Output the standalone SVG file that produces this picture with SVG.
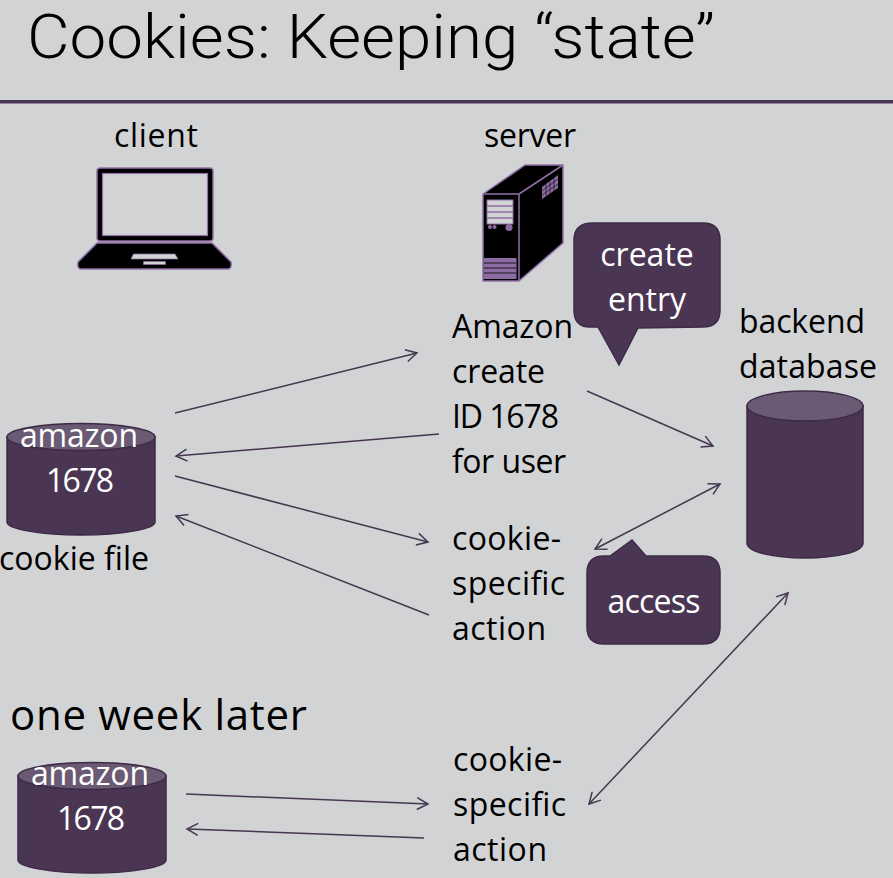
<svg xmlns="http://www.w3.org/2000/svg" width="893" height="878" viewBox="0 0 893 878">
<style>
text{font-family:"Open Sans","Noto Sans","Liberation Sans",sans-serif;font-size:32px;fill:#000}
.w{fill:#fff}
.c{text-anchor:middle}
.body{fill:#4a3553;stroke:#3d2a47;stroke-width:1.5}
.top{fill:#6b5a73;stroke:#3d2a47;stroke-width:1.5}
.ln{fill:none;stroke:#45374f;stroke-width:1.5}
.dev{fill:#000;stroke:#9070a8;stroke-width:1.5;stroke-linejoin:round}
.cut{fill:#d2d3d5;stroke:#9070a8;stroke-width:1.2}
.vent{fill:#8d6ba3;stroke:none}
</style>
<defs>
<marker id="a" markerUnits="userSpaceOnUse" markerWidth="20" markerHeight="20" refX="15" refY="8" orient="auto-start-reverse"><path d="M4 2L15 8L4 14" fill="none" stroke="#45374f" stroke-width="1.5"/></marker>
</defs>
<rect width="893" height="878" fill="#d2d3d5"/>
<rect id="rule" x="0" y="100" width="893" height="3.500" fill="#4a3553"/>
<text id="title" x="27" y="58" style="font-family:Roboto,'Open Sans',sans-serif;font-size:62px;font-weight:300" textLength="688" lengthAdjust="spacingAndGlyphs">Cookies: Keeping “state”</text>
<g id="client"><text x="156" y="147" class="c" textLength="84">client</text>
<path class="dev" d="M100 168H210Q213 168 213 171V238Q213 241 210 241H100Q97 241 97 238V171Q97 168 100 168Z"/>
<rect class="cut" x="102.500" y="173.500" width="105" height="62"/>
<path class="dev" d="M97 243H212L231 262Q232 269 228 269H81Q77 269 78 262Z"/>
<path class="cut" d="M133.500 254H175L178 259H131ZM143.500 261.500H165.500V264.500H143.500Z" style="stroke-width:.7"/>
</g>
<g id="server"><text x="530" y="147" class="c" textLength="92">server</text>
<path class="dev" d="M483 194L525 165H563V243L519 281H483Z"/>
<path d="M483 194H519V281M519 194L563 165" fill="none" stroke="#9070a8" stroke-width="1.500"/>
<rect x="487" y="200" width="26" height="24" fill="#d2d3d5" stroke="#9070a8"/>
<path d="M487 206H513M487 212H513M487 218H513" stroke="#8d6ba3" stroke-width="1.600"/>
<rect class="vent" x="483.500" y="258" width="33" height="21"/>
<path d="M484 263H516M484 268H516M484 273H516" stroke="#000" stroke-width=".8"/>
<circle cx="490" cy="227" r="2" fill="#8d6ba3"/><circle cx="494.500" cy="227" r="2" fill="#8d6ba3"/><circle cx="509" cy="227.500" r="3.500" fill="#8d6ba3"/>
<path class="vent" d="M542 187L558 175V188L542 199Z"/>
<path d="M546 184V196M550 181V194M554 178V191M542 191L558 179M542 195L558 184" fill="none" stroke="#000" stroke-width=".6"/>
</g>
<g id="create-entry"><path class="body" d="M593 223H703Q720 223 720 240V310Q720 327 703 327L638 328L619 365L598 327L590 327Q574 327 574 310V240Q574 223 593 223Z"/>
<text x="647" y="266" class="c w">create</text><text x="647" y="311" class="c w">entry</text></g>
<g id="access"><path class="body" d="M610 556L632 540L646 556H703Q720 556 720 573V627Q720 644 703 644H604Q587 644 587 627V573Q587 556 604 556Z"/>
<text x="654" y="613" class="c w" textLength="93">access</text></g>
<g id="backend"><text x="739" y="333" textLength="126">backend</text><text x="739" y="378" textLength="138">database</text>
<path class="body" d="M747 406V543C747 552 773 558 805 558C837 558 863 552 863 543V406Z"/><ellipse class="top" cx="805" cy="406" rx="58" ry="15"/></g>
<g id="cookie1"><path class="body" d="M7 437V522C7 529 40 535 81 535C122 535 155 529 155 522V437Z"/><ellipse class="top" cx="81" cy="437" rx="74" ry="13.500"/>
<text x="79" y="447" class="c w" textLength="118">amazon</text><text x="80" y="492" class="c w" textLength="68">1678</text></g>
<text id="cookie-file" x="-1" y="570" textLength="150">cookie file</text>
<text id="week" x="10" y="730" style="font-size:42px" textLength="297">one week later</text>
<g id="cookie2"><path class="body" d="M18 776V860C18 867 51 873 92 873C133 873 166 867 166 860V776Z"/><ellipse class="top" cx="92" cy="776" rx="74" ry="13.500"/>
<text x="90" y="785" class="c w" textLength="118">amazon</text><text x="91" y="830" class="c w" textLength="68">1678</text></g>
<g id="amazon-action"><text x="452" y="338" textLength="121">Amazon</text><text x="452" y="383" textLength="93">create</text><text x="452" y="428" textLength="107">ID 1678</text><text x="452" y="473" textLength="114">for user</text></g>
<g id="action1"><text x="452" y="550" textLength="109">cookie-</text><text x="452" y="595" textLength="113">specific</text><text x="452" y="640" textLength="94">action</text></g>
<g id="action2"><text x="453" y="771" textLength="109">cookie-</text><text x="453" y="816" textLength="113">specific</text><text x="453" y="861" textLength="94">action</text></g>
<g id="connectors" class="conn">
<path class="ln" marker-end="url(#a)" d="M175 413L417 353"/>
<path class="ln" marker-end="url(#a)" d="M439 434L176 456"/>
<path class="ln" marker-end="url(#a)" d="M175 476L428 542"/>
<path class="ln" marker-end="url(#a)" d="M429 615L176 516"/>
<path class="ln" marker-end="url(#a)" d="M587 391L713 446"/>
<path class="ln" marker-start="url(#a)" marker-end="url(#a)" d="M595 549L720 484"/>
<path class="ln" marker-start="url(#a)" marker-end="url(#a)" d="M589 804L788 593"/>
<path class="ln" marker-end="url(#a)" d="M186 794L428 804"/>
<path class="ln" marker-end="url(#a)" d="M424 838L187 829"/>
</g>
</svg>
